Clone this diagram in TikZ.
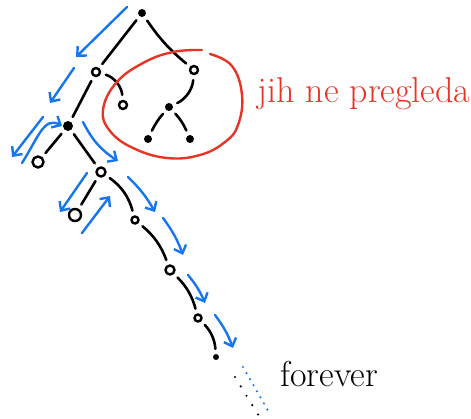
\documentclass[tikz,border=0pt]{standalone}
\usetikzlibrary{arrows.meta}
\definecolor{penblue}{RGB}{22,118,238}
\definecolor{penred}{RGB}{232,52,38}
\begin{document}
\begin{tikzpicture}[x=1pt, y=-1pt,
        dot/.style={circle, fill, inner sep=0pt, minimum size=8pt},
        hole/.style={circle, draw, line width=2.4pt, inner sep=0pt, minimum size=8pt},
        branch/.style={line width=2.6pt, line cap=round, shorten >=5pt, shorten <=5pt},
        hint/.style={penblue, line width=2.4pt, line cap=round, ->},
        >={Straight Barb[length=7pt,width=13pt]}]
        \useasboundingbox (0,0) rectangle (471,419);
        % tree
        \node[dot] (r) at (142,13) {};
        \node[hole] (a) at (96,72) {};
        \node[hole] (b) at (194,70) {};
        \node[hole] (ar) at (123,105) {};
        \node[dot] (bc) at (169,107) {};
        \node[dot] (bl) at (148,139) {};
        \node[dot] (br) at (190,139) {};
        \node[dot, minimum width=7pt, minimum height=10pt] (c) at (68,126) {};
        \node[hole, minimum width=11pt, minimum height=10pt] (cl) at (38,162) {};
        \node[hole, minimum size=9pt] (d) at (101,172) {};
        \node[hole, minimum width=10pt, minimum height=12pt] (dl) at (75,215) {};
        \node[hole, minimum size=7pt] (e) at (135,220) {};
        \node[hole, minimum size=9pt] (f) at (170,270) {};
        \node[hole, minimum size=7pt] (g) at (198,318) {};
        \node[dot, minimum size=6pt] (h) at (216,357) {};
        \draw[branch] (r) -- (a);
        \draw[branch] (r) to[bend right=8] (b);
        \draw[branch] (a) -- (c);
        \draw[branch] (a) to[bend left=35] (ar);
        \draw[branch] (b) to[bend left=30] (bc);
        \draw[branch] (bc) to[bend right=8] (bl);
        \draw[branch] (bc) to[bend left=10] (br);
        \draw[branch] (c) -- (cl);
        \draw[branch] (c) -- (d);
        \draw[branch] (d) -- (dl);
        \draw[branch] (d) to[bend left=20] (e);
        \draw[branch] (e) to[bend left=15] (f);
        \draw[branch] (f) to[bend left=15] (g);
        \draw[branch] (g) to[bend left=20] (h);
        % forever
        \draw[line width=2.4pt, line cap=round, dash pattern=on 0pt off 11pt] (235,377) -- (259,416);
        \draw[penblue, line width=2.4pt, line cap=round, dash pattern=on 0pt off 7pt] (243,367) -- (270,414);
        \node[font=\fontsize{36}{42}\selectfont, anchor=base west] (forever) at (277,386) {forever};
        % order of visits
        \draw[hint] (127,7) -- (76,57);
        \draw[hint] (74,68) -- (50,103);
        \draw[hint] (43,117) -- (12,157);
        \draw[hint] (22,163) .. controls (38,138) and (44,116) .. (62,126);
        \draw[hint] (83,122) to[bend right=15] (118,161);
        \draw[hint] (87,173) -- (60,212);
        \draw[hint] (82,233) -- (110,196);
        \draw[hint] (128,177) to[bend left=8] (155,212);
        \draw[hint] (163,218) to[bend left=8] (183,255);
        \draw[hint] (188,275) to[bend left=8] (205,303);
        \draw[hint] (215,315) to[bend left=8] (233,348);
        % skipped part
        \draw[penred, line width=2.4pt, line cap=round] plot[smooth, tension=0.7] coordinates {(210,54) (232,66) (242,95) (238,125) (225,142) (200,155) (167,158) (133,148) (110,131) (103,110) (116,83) (143,63) (173,52) (202,50)};
        \node[penred, font=\fontsize{36}{42}\selectfont, anchor=base west] (note) at (254,103) {jih ne pregleda};
    \end{tikzpicture}
\end{document}
